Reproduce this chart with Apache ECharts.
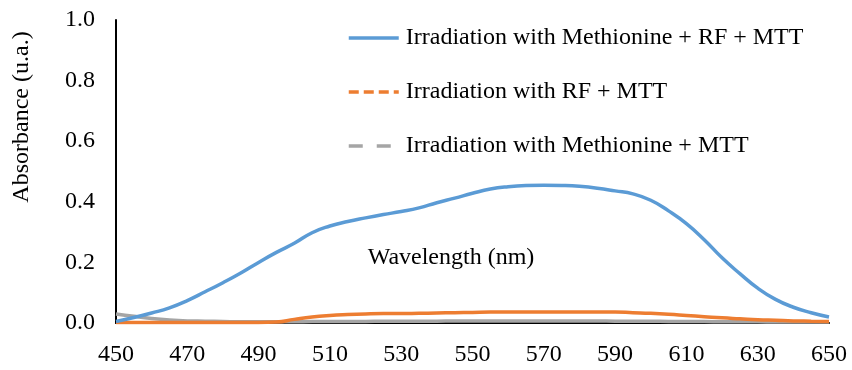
<!DOCTYPE html>
<html>
<head>
<meta charset="utf-8">
<script src="https://cdn.jsdelivr.net/npm/echarts@6/dist/echarts.min.js"></script>
<style>
  html, body { margin: 0; padding: 0; background: #ffffff; }
  #chart { width: 852px; height: 370px; }
</style>
</head>
<body>
<div id="chart"></div>
<script>
// wavelength (nm), every 5 nm
const wavelengths = [450, 455, 460, 465, 470, 475, 480, 485, 490, 495,
  500, 505, 510, 515, 520, 525, 530, 535, 540, 545,
  550, 555, 560, 565, 570, 575, 580, 585, 590, 595,
  600, 605, 610, 615, 620, 625, 630, 635, 640, 645, 650]

// Irradiation with Methionine + RF + MTT
const methRfMtt = [0.005, 0.018, 0.033, 0.050, 0.074, 0.103, 0.133, 0.165, 0.200, 0.233,
  0.263, 0.298, 0.320, 0.335, 0.347, 0.358, 0.368, 0.380, 0.397, 0.412,
  0.428, 0.442, 0.450, 0.454, 0.455, 0.454, 0.451, 0.445, 0.436, 0.426,
  0.405, 0.370, 0.328, 0.275, 0.215, 0.163, 0.115, 0.078, 0.052, 0.034, 0.020]

// Irradiation with RF + MTT
const rfMtt = [0.002, 0.002, 0.002, 0.002, 0.002, 0.002, 0.002, 0.002, 0.002, 0.003,
  0.012, 0.020, 0.025, 0.028, 0.030, 0.031, 0.031, 0.032, 0.033, 0.034,
  0.035, 0.036, 0.036, 0.036, 0.036, 0.036, 0.036, 0.036, 0.036, 0.034,
  0.032, 0.029, 0.025, 0.021, 0.017, 0.014, 0.011, 0.009, 0.007, 0.006, 0.005]

// Irradiation with Methionine + MTT
const methMtt = [0.030, 0.022, 0.015, 0.010, 0.007, 0.006, 0.005, 0.004, 0.004, 0.004,
  0.004, 0.005, 0.005, 0.005, 0.005, 0.006, 0.006, 0.006, 0.006, 0.007,
  0.007, 0.007, 0.007, 0.007, 0.007, 0.007, 0.007, 0.007, 0.006, 0.006,
  0.006, 0.005, 0.005, 0.005, 0.004, 0.004, 0.004, 0.003, 0.003, 0.003, 0.003]

const seriesNames = ['Irradiation with Methionine + RF + MTT', 'Irradiation with RF + MTT', 'Irradiation with Methionine + MTT']
const xTicks = [450, 650, 20]   // min, max, interval
const yTicks = [0, 1, 0.2]

const serif = '"Liberation Serif", "Times New Roman", serif'

function pairs(ys) {
  return wavelengths.map((x, i) => [x, ys[i]])
}

let chart = echarts.init(document.getElementById('chart'))

const option = {
  animation: false,
  backgroundColor: '#ffffff',
  grid: { left: 116, right: 23, top: 20, bottom: 47 },
  legend: {
    orient: 'vertical',
    left: 347,
    top: 26,
    padding: 0,
    itemWidth: 50,
    itemHeight: 14,
    itemGap: 30,
    itemStyle: { opacity: 0 },  // hide the circle, keep the line
    textStyle: { fontFamily: serif, fontSize: 24, color: '#000', lineHeight: 24, padding: [0, 0, 0, 2] },
    data: [
      { name: seriesNames[0], lineStyle: { width: 3.5 } },
      { name: seriesNames[1], lineStyle: { width: 3.5, type: [10, 5] } },
      { name: seriesNames[2], lineStyle: { width: 3.5, type: [14, 14] } }
    ]
  },
  xAxis: {
    type: 'value',
    min: xTicks[0],
    max: xTicks[1],
    interval: xTicks[2],
    axisLine: { lineStyle: { color: '#000', width: 2 } },
    axisTick: { show: false },
    splitLine: { show: false },
    axisLabel: { fontFamily: serif, fontSize: 24, color: '#000', margin: 20 }
  },
  yAxis: {
    type: 'value',
    min: yTicks[0],
    max: yTicks[1],
    interval: yTicks[2],
    axisLine: { show: true, lineStyle: { color: '#000', width: 2 } },
    axisTick: { show: false },
    splitLine: { show: false },
    axisLabel: {
      fontFamily: serif, fontSize: 24, color: '#000', margin: 21,
      formatter: v => v.toFixed(1)
    }
  },
  graphic: [
    {
      type: 'text',
      x: 22,
      y: 117,
      rotation: Math.PI / 2,
      style: {
        text: 'Absorbance (u.a.)',
        font: '24px ' + serif,
        fill: '#000',
        textAlign: 'center',
        textVerticalAlign: 'middle'
      }
    },
    {
      type: 'text',
      x: 451,
      y: 258,
      style: {
        text: 'Wavelength (nm)',
        font: '24px ' + serif,
        fill: '#000',
        textAlign: 'center',
        textVerticalAlign: 'middle'
      }
    }
  ],
  series: [
    {
      name: seriesNames[2],
      type: 'line',
      data: pairs(methMtt),
      symbol: 'none',
      smooth: true,
      itemStyle: { color: '#A5A5A5' },
      lineStyle: { color: '#A5A5A5', width: 3.5 }
    },
    {
      name: seriesNames[1],
      type: 'line',
      data: pairs(rfMtt),
      symbol: 'none',
      smooth: true,
      itemStyle: { color: '#ED7D31' },
      lineStyle: { color: '#ED7D31', width: 3.5 }
    },
    {
      name: seriesNames[0],
      type: 'line',
      data: pairs(methRfMtt),
      symbol: 'none',
      smooth: true,
      itemStyle: { color: '#5B9BD5' },
      lineStyle: { color: '#5B9BD5', width: 3.5 }
    }
  ]
}

chart.setOption(option)
</script>
</body>
</html>
